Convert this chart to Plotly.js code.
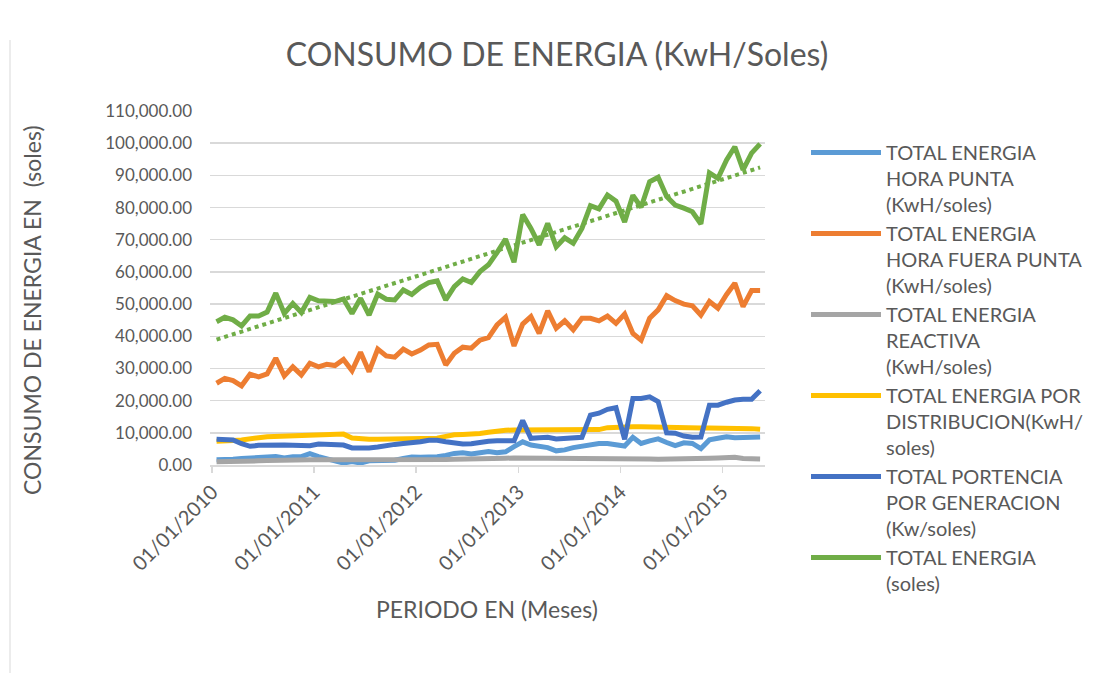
<!DOCTYPE html>
<html>
<head>
<meta charset="utf-8">
<script src="https://cdn.plot.ly/plotly-3.0.1.min.js"></script>
<style>html,body{margin:0;padding:0;background:#fff;}#chart{width:1094px;height:673px;}</style>
</head>
<body>
<div id="chart"></div>
<script>
// Months (Jan 2010 .. May 2015)
const months = [
'2010-01-01','2010-02-01','2010-03-01','2010-04-01','2010-05-01','2010-06-01','2010-07-01','2010-08-01','2010-09-01','2010-10-01','2010-11-01','2010-12-01',
'2011-01-01','2011-02-01','2011-03-01','2011-04-01','2011-05-01','2011-06-01','2011-07-01','2011-08-01','2011-09-01','2011-10-01','2011-11-01','2011-12-01',
'2012-01-01','2012-02-01','2012-03-01','2012-04-01','2012-05-01','2012-06-01','2012-07-01','2012-08-01','2012-09-01','2012-10-01','2012-11-01','2012-12-01',
'2013-01-01','2013-02-01','2013-03-01','2013-04-01','2013-05-01','2013-06-01','2013-07-01','2013-08-01','2013-09-01','2013-10-01','2013-11-01','2013-12-01',
'2014-01-01','2014-02-01','2014-03-01','2014-04-01','2014-05-01','2014-06-01','2014-07-01','2014-08-01','2014-09-01','2014-10-01','2014-11-01','2014-12-01',
'2015-01-01','2015-02-01','2015-03-01','2015-04-01','2015-05-01'];

const horaPunta = [1600,1600,1800,2000,2100,2300,2400,2600,2200,2600, 2600,3500,2600,2000,1600,600,1100,600,1300,1400,
 1400,1500,2000,2500,2400,2400,2600,3000,3600,3800, 3400,3800,4200,3800,4100,5700,7200,6200,5900,5400,
 4400,4700,5400,5900,6500,6700,6700,6200,5900,8600, 6700,7500,8100,7000,6000,6900,6700,5100,7800,8300,
 8800,8500,8500,8700,8700];

const horaFueraPunta = [25400,26900,26200,24600,28200,27400,28300,33200,27700,30500, 28000,31600,30500,31300,30900,32800,29300,35000,29000,36000,
 33900,33500,36000,34500,35700,37300,37500,31100,34700,36600, 36300,38800,39600,43500,45900,37000,43800,46100,40900,47900,
 42500,44800,42000,45600,45600,44800,46300,44000,46900,40900, 38800,45600,48200,52600,51100,50000,49500,46600,50800,48700,
 53000,56500,49200,54200,54200];

const reactiva = [1000,1000,1000,1100,1200,1300,1400,1500,1500,1600, 1600,1600,1600,1600,1600,1600,1600,1500,1500,1400,
 1500,1600,1600,1600,1600,1600,1600,1700,1800,1800, 1900,2000,2000,2100,2100,2200,2200,2100,2000,2000,
 2000,2100,2100,2100,2000,1900,1900,1900,1900,1900, 1900,1900,1800,1800,1900,1900,2000,2000,2100,2200,
 2400,2400,2000,1900,1900];

const distribucion = [7400,7400,7600,7800,8300,8500,8800,8900,9000,9000, 9100,9200,9300,9400,9600,9600,8400,8100,8000,8000,
 8000,8000,8000,8000,8000,8100,8300,8900,9400,9500, 9500,9800,10200,10600,10800,10900,10900,10900,10900,10900,
 10900,10900,10900,10900,10900,11000,11600,11800,11900,11900, 11900,11800,11800,11700,11700,11600,11600,11500,11500,11500,
 11500,11500,11400,11300,11100];

const potenciaGen = [8000,8000,7800,6600,5800,6100,6200,6200,6200,6100, 6000,6000,6500,6300,6200,6200,5300,5200,5300,5600,
 6100,6400,6700,6800,7200,7700,7700,7200,6700,6500, 6600,7100,7400,7500,7500,7500,13800,8300,8500,8600,
 8100,8200,8400,8600,15500,16100,17300,17800,8000,20700, 20700,21200,19700,10000,9900,9000,8600,8700,18600,18600,
 19500,20200,20400,20400,23100];

const totalEnergia = [44500,45900,45100,43200,46300,46300,47500,53400,47100,50200, 47400,52100,51000,51000,50800,51600,47100,51800,46600,53100,
 51500,51300,54400,53000,55200,56700,57200,51300,55400,57800, 56700,60100,62200,66000,70200,63000,77800,73500,68400,75100,
 67800,70600,68900,73500,80600,79600,83900,82000,75500,83800, 80100,88000,89400,83400,80800,79800,78700,74900,90800,89100,
 94800,98900,91700,96900,99800];

const seriesNames = [
 'TOTAL ENERGIA<br>HORA PUNTA<br>(KwH/soles)',
 'TOTAL ENERGIA<br>HORA FUERA PUNTA<br>(KwH/soles)',
 'TOTAL ENERGIA<br>REACTIVA<br>(KwH/soles)',
 'TOTAL ENERGIA POR<br>DISTRIBUCION(KwH/<br>soles)',
 'TOTAL PORTENCIA<br>POR GENERACION<br>(Kw/soles)',
 'TOTAL ENERGIA<br>(soles)'];
const seriesColors = ['#5B9BD5','#ED7D31','#A5A5A5','#FFC000','#4472C4','#70AD47'];
const seriesData = [horaPunta, horaFueraPunta, reactiva, distribucion, potenciaGen, totalEnergia];

const FONT = 'Lato, "Open Sans", sans-serif';
const GREY = '#595959';

// Linear trendline of total energy (least squares on date value), as Excel does
const tx = months.map(d => new Date(d).getTime());
const n = tx.length;
let sx=0, sy=0;
for (let i=0;i<n;i++){ sx+=tx[i]; sy+=totalEnergia[i]; }
const mx = sx/n, my = sy/n;
let num=0, den=0;
for (let i=0;i<n;i++){ num += (tx[i]-mx)*(totalEnergia[i]-my); den += (tx[i]-mx)*(tx[i]-mx); }
const slope = num/den, icpt = my - slope*mx;
const trend = tx.map(t => icpt + slope*t);

const traces = seriesData.map((ys, k) => ({
  x: months, y: ys, type: 'scatter', mode: 'lines',
  xperiod: 'M1', xperiodalignment: 'middle',
  name: seriesNames[k], legendgroup: 'g'+k,
  line: {color: seriesColors[k], width: 5},
  hoverinfo: 'skip'
}));
traces.push({
  x: months, y: trend, type: 'scatter', mode: 'lines',
  xperiod: 'M1', xperiodalignment: 'middle',
  showlegend: false, hoverinfo: 'skip',
  line: {color: '#70AD47', width: 4, dash: 'dot'}
});

const L=210, R=765, T=111, B=465;
const pw = R-L, ph = B-T;
const px = v => (v-L)/pw;
const py = v => (B-v)/ph;

const layout = {
  width: 1094, height: 673,
  margin: {l: L, r: 1094-R, t: T, b: 673-B, autoexpand: false},
  paper_bgcolor: '#fff', plot_bgcolor: '#fff',
  font: {family: FONT, color: GREY, size: 17},
  title: {text: 'CONSUMO DE ENERGIA (KwH/Soles)', font: {family: FONT, size: 32, color: GREY},
          xref: 'container', yref: 'container', x: 557/1094, xanchor: 'center', y: 1-55/673, yanchor: 'middle'},
  xaxis: {
    type: 'date', range: ['2009-12-24', '2015-06-03'],
    tick0: '2010-01-01', dtick: 'M12', tickformat: '%d/%m/%Y', tickangle: -45,
    showgrid: false, zeroline: false, showline: true, linecolor: '#d9d9d9', linewidth: 1.5,
    ticks: 'outside', ticklen: 6, tickcolor: '#d9d9d9', tickwidth: 1.5,
    tickfont: {family: FONT, size: 20, color: GREY}
  },
  yaxis: {
    range: [0, 110000], dtick: 10000, tick0: 0, tickformat: ',.2f',
    showgrid: true, gridcolor: '#d9d9d9', gridwidth: 1.5, zeroline: false, showline: false,
    ticks: '', ticklabelstandoff: 17,
    tickfont: {family: FONT, size: 17, color: GREY}
  },
  showlegend: true,
  legend: {
    x: px(806), y: py(133), xanchor: 'left', yanchor: 'top',
    font: {family: FONT, size: 20, color: GREY},
    bgcolor: 'rgba(0,0,0,0)', tracegroupgap: 0, valign: 'top', itemwidth: 70,
    maxheight: 660
  },
  annotations: [
    {text: 'CONSUMO DE ENERGIA EN  (soles)', xref: 'paper', yref: 'paper', x: px(32), y: py(310),
     xanchor: 'center', yanchor: 'middle', textangle: -90, showarrow: false,
     font: {family: FONT, size: 23, color: GREY}},
    {text: 'PERIODO EN (Meses)', xref: 'paper', yref: 'paper', x: px(487), y: py(609),
     xanchor: 'center', yanchor: 'middle', showarrow: false,
     font: {family: FONT, size: 23, color: GREY}}
  ],
  shapes: [
    {type: 'line', xref: 'paper', yref: 'paper', x0: px(10), x1: px(10), y0: py(673), y1: py(40),
     line: {color: '#d9d9d9', width: 1}}
  ]
};

Plotly.newPlot('chart', traces, layout, {displayModeBar: false, staticPlot: true});
</script>
</body>
</html>
